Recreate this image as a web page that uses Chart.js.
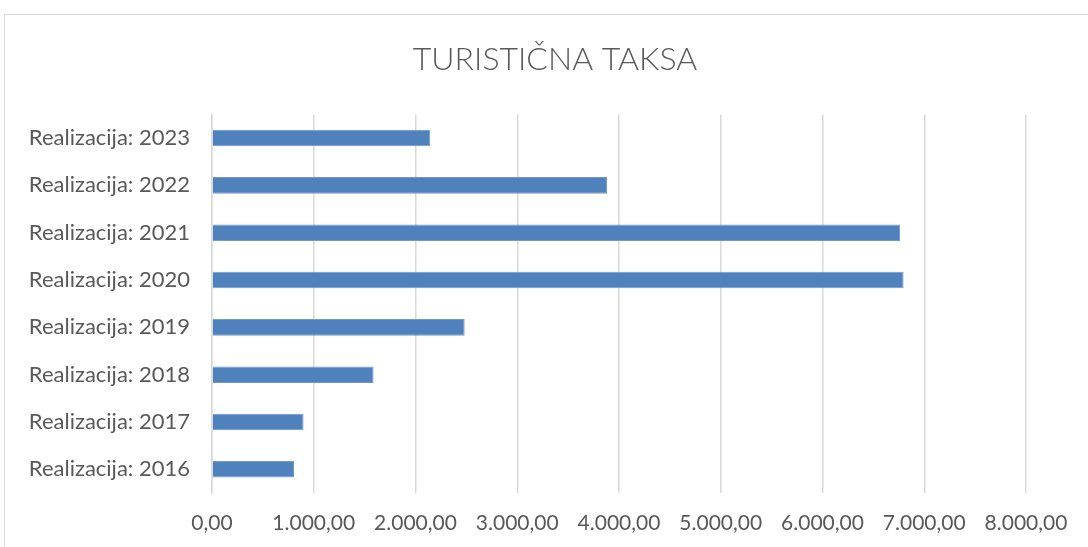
<!DOCTYPE html>
<html>
<head>
<meta charset="utf-8">
<script src="https://cdn.jsdelivr.net/npm/chart.js@4"></script>
<style>
    html, body { margin: 0; padding: 0; background: #fff; overflow: hidden; width: 1088px; height: 547px; }
    .frame { position: absolute; left: 4px; top: 14px; width: 1120px; height: 560px; border: 1px solid #d9d9d9; box-sizing: border-box; }
    .wrap { position: absolute; left: 4px; top: 14px; width: 1102px; height: 545px; }
</style>
</head>
<body>
<div class="frame"></div>
<div class="wrap"><canvas id="taksaChart"></canvas></div>
<script>
const years = ['2016', '2017', '2018', '2019', '2020', '2021', '2022', '2023'];
const realizacija = [806, 900, 1588, 2483, 6797, 6762, 3882, 2145];
const xTicks = [0, 1000, 2000, 3000, 4000, 5000, 6000, 7000, 8000];

// 1.000,00 style numbers
function formatSl(v) {
    const parts = Number(v).toFixed(2).split('.');
    parts[0] = parts[0].replace(/\B(?=(\d{3})+(?!\d))/g, '.');
    return parts.join(',');
}

document.addEventListener('DOMContentLoaded', () => {
    const ctx = document.getElementById('taksaChart').getContext('2d');
    new Chart(ctx, {
        type: 'bar',
        data: {
            labels: years.map(y => 'Realizacija: ' + y),
            datasets: [{
                data: realizacija,
                backgroundColor: '#4f81bd',
                borderColor: '#6f9ad0',
                borderWidth: 1,
                categoryPercentage: 1,
                barPercentage: 0.35
            }]
        },
        options: {
            indexAxis: 'y',
            responsive: true,
            maintainAspectRatio: false,
            animation: false,
            layout: { padding: { left: 0, right: 0, top: 0, bottom: 23 } },
            plugins: {
                legend: { display: false },
                tooltip: { enabled: false },
                title: {
                    display: true,
                    text: 'TURISTIČNA TAKSA',
                    color: '#595959',
                    font: { family: 'Lato', size: 32, weight: '300' },
                    padding: { top: 26, bottom: 36 }
                }
            },
            scales: {
                x: {
                    min: 0,
                    max: 8000,
                    afterBuildTicks: scale => { scale.ticks = xTicks.map(v => ({ value: v })); },
                    afterFit: scale => { scale.height = 43; },
                    grid: { color: '#d9d9d9', lineWidth: 1.5, drawTicks: false },
                    border: { display: false },
                    ticks: {
                        color: '#595959',
                        font: { family: 'Lato', size: 21 },
                        padding: 18,
                        callback: v => formatSl(v)
                    }
                },
                y: {
                    reverse: true,
                    afterFit: scale => { scale.width = 208; },
                    grid: { display: false, drawTicks: false },
                    border: { display: true, color: '#d9d9d9', width: 1.5 },
                    ticks: {
                        color: '#595959',
                        font: { family: 'Lato', size: 22 },
                        padding: 22
                    }
                },
                // empty right-hand gap so the title stays centred on the whole chart
                gap: {
                    type: 'linear',
                    position: 'right',
                    display: true,
                    afterFit: scale => { scale.width = 80; },
                    grid: { display: false, drawTicks: false },
                    border: { display: false },
                    ticks: { display: false }
                }
            }
        }
    });
});
</script>
</body>
</html>
